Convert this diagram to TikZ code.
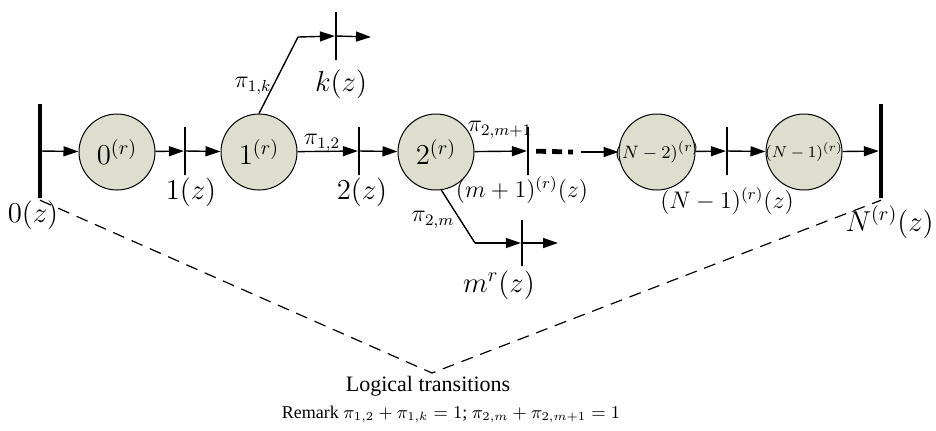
\documentclass[tikz,border=0pt]{standalone}
\usepackage{fontspec}
\setmainfont{Liberation Serif}
\usetikzlibrary{arrows.meta,positioning}
\definecolor{ink}{HTML}{000000}
\definecolor{placefill}{HTML}{DDDECD}
\tikzset{place/.style={circle,draw=ink,line width=0.5pt,fill=placefill,minimum size=38pt,inner sep=0pt,font=\fontsize{14}{16}\selectfont},
trans/.style={draw=ink,line width=1.1pt,minimum width=0pt,minimum height=24pt,inner sep=0pt},
endbar/.style={draw=ink,line width=2.2pt,minimum width=0pt,minimum height=47pt,inner sep=0pt},
arr/.style={-{Triangle[length=7.5pt,width=5pt]},line width=0.7pt,draw=ink},
lbl/.style={inner sep=0pt,font=\fontsize{14}{16}\selectfont},
prob/.style={inner sep=0pt,font=\fontsize{12}{14}\selectfont},
logic/.style={dashed,line width=0.6pt,dash pattern=on 6pt off 4pt}}
\begin{document}
\begin{tikzpicture}[x=0.5pt,y=-0.5pt]
\useasboundingbox (0,0) rectangle (936,430);
\node[endbar](t0) at (40,151){};\node[endbar](tN) at (881,151){};
\node[place](c0) at (117,152){$0^{(r)}$};\node[trans](t1) at (185,151){};
\node[place](c1) at (259,152){$1^{(r)}$};\node[trans](t2) at (359,151){};
\node[place](c2) at (436,152){$2^{(r)}$};\node[trans](tm1) at (528,151){};
\node[place,label={[font=\fontsize{9.5}{11}\selectfont,inner sep=0pt]center:$(N-2)^{(r)}$}](cN2) at (657,152){};\node[trans](tN1) at (727,151){};
\node[place,label={[font=\fontsize{8}{10}\selectfont,inner sep=0pt]center:$(N-1)^{(r)}$}](cN1) at (804,152){};
\node[trans](tk) at (336,36){};\node[trans,minimum height=23pt](tm) at (522,243){};
\coordinate(kbend) at (298,37);\coordinate(kout) at (371,37);
\coordinate(mbend) at (475,243);\coordinate(mout) at (558,243);
\coordinate(dotsend) at (573,152);\coordinate(dotsout) at (581,152);
\coordinate(logic) at (432,373);
\draw[arr](t0)--(c0);\draw[arr](c0)--(t1);\draw[arr](t1)--(c1);
\draw[arr](c1)--(t2);\draw[arr](t2)--(c2);\draw[arr](c2)--(tm1);
\draw[line width=2.4pt,dash pattern=on 5pt off 3pt,shorten <=3.5pt](tm1)--(dotsend);
\draw[arr](dotsout)--(cN2);\draw[arr](cN2)--(tN1);\draw[arr](tN1)--(cN1);\draw[arr](cN1)--(tN);
\draw[line width=0.7pt](c1.north)--(kbend);\draw[arr](kbend)--(tk);\draw[arr](tk)--(kout);
\draw[line width=0.7pt](c2.-82)--(mbend);\draw[arr](mbend)--(tm);\draw[arr](tm)--(mout);
\draw[logic](t0.south)--(logic)--(tN.south);
\node[lbl](l0) at (33,215){$0(z)$};\node[lbl](l1) at (191,192){$1(z)$};
\node[lbl](l2) at (362,192){$2(z)$};\node[lbl](lk) at (341,84){$k(z)$};
\node[lbl,font=\fontsize{12}{14}\selectfont](lm1) at (522,190){$(m+1)^{(r)}(z)$};
\node[lbl,font=\fontsize{12}{14}\selectfont](lN1) at (727,201){$(N-1)^{(r)}(z)$};
\node[lbl,anchor=east](lN) at (934,222){$N^{(r)}(z)$};\node[lbl](lm) at (499,285){$m^{r}(z)$};
\node[prob](p1k) at (253,86){$\pi_{1,k}$};\node[prob](p12) at (322,143){$\pi_{1,2}$};
\node[prob](p2m) at (433,220){$\pi_{2,m}$};\node[prob](p2m1) at (500,130){$\pi_{2,m+1}$};
\node[font=\fontsize{11}{13}\selectfont,inner sep=0pt](lt) at (428,386){Logical transitions};
\node[font=\fontsize{9}{11}\selectfont,inner sep=0pt](rm) at (451,414){Remark $\pi_{1,2}+\pi_{1,k}=1$; $\pi_{2,m}+\pi_{2,m+1}=1$};
\end{tikzpicture}
\end{document}
